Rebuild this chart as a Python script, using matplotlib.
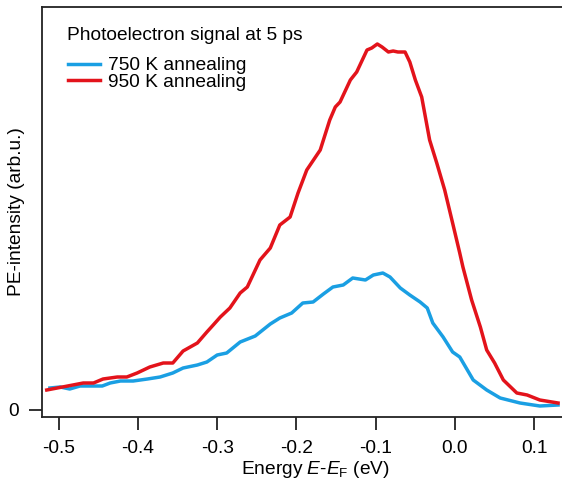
import matplotlib
matplotlib.use("Agg")
import matplotlib.pyplot as plt

plt.rcParams['font.family'] = ['Liberation Sans', 'DejaVu Sans']
plt.rcParams['mathtext.fontset'] = 'custom'
plt.rcParams['mathtext.rm'] = 'Liberation Sans'
plt.rcParams['mathtext.it'] = 'Liberation Sans:italic'

# Energy E-E_F (eV)
red_x = [-0.515, -0.482, -0.469, -0.456, -0.444, -0.426, -0.414, -0.401, -0.385, -0.368,
         -0.356, -0.343, -0.325, -0.313, -0.305, -0.296, -0.284, -0.271, -0.262, -0.246,
         -0.233, -0.221, -0.208, -0.198, -0.187, -0.170, -0.158, -0.151, -0.145, -0.132,
         -0.124, -0.111, -0.105, -0.098, -0.092, -0.084, -0.078, -0.072, -0.063, -0.057,
         -0.050, -0.042, -0.032, -0.023, -0.013, -0.003, 0.006, 0.010, 0.021, 0.032,
         0.040, 0.050, 0.061, 0.078, 0.091, 0.107, 0.130]
red_y = [0.20, 0.25, 0.27, 0.27, 0.31, 0.33, 0.33, 0.37, 0.43, 0.47,
         0.47, 0.59, 0.67, 0.78, 0.85, 0.93, 1.02, 1.17, 1.23, 1.50,
         1.62, 1.85, 1.93, 2.17, 2.40, 2.60, 2.90, 3.03, 3.08, 3.30,
         3.38, 3.60, 3.62, 3.66, 3.63, 3.58, 3.59, 3.58, 3.58, 3.48,
         3.30, 3.13, 2.70, 2.47, 2.20, 1.87, 1.57, 1.43, 1.10, 0.83,
         0.60, 0.47, 0.30, 0.17, 0.15, 0.10, 0.07]

blue_x = [-0.511, -0.498, -0.486, -0.473, -0.460, -0.445, -0.435, -0.422, -0.406, -0.388,
          -0.372, -0.356, -0.343, -0.325, -0.313, -0.300, -0.288, -0.271, -0.252, -0.233,
          -0.221, -0.206, -0.192, -0.179, -0.166, -0.154, -0.141, -0.129, -0.113, -0.103,
          -0.091, -0.082, -0.069, -0.057, -0.044, -0.035, -0.028, -0.015, -0.003, 0.006,
          0.023, 0.040, 0.057, 0.082, 0.107, 0.130]
blue_y = [0.22, 0.23, 0.21, 0.24, 0.24, 0.24, 0.27, 0.29, 0.29, 0.31,
          0.33, 0.37, 0.42, 0.45, 0.48, 0.55, 0.57, 0.68, 0.74, 0.86,
          0.92, 0.97, 1.07, 1.08, 1.16, 1.23, 1.25, 1.32, 1.30, 1.35,
          1.37, 1.33, 1.22, 1.15, 1.08, 1.02, 0.87, 0.73, 0.58, 0.53,
          0.30, 0.20, 0.12, 0.07, 0.04, 0.05]

x_ticks = [-0.5, -0.4, -0.3, -0.2, -0.1, 0.0, 0.1]
x_tick_labels = ['-0.5', '-0.4', '-0.3', '-0.2', '-0.1', '0.0', '0.1']

FS = 13.8

fig = plt.figure(figsize=(5.62, 4.88), dpi=100)
ax = fig.add_axes([42/562, 1-417/488, 520/562, 410/488])

blue_c = '#1a9fe3'
red_c = '#e3131b'
ax.plot(blue_x, blue_y, color=blue_c, lw=2.5, label='750 K annealing', solid_joinstyle='round')
ax.plot(red_x, red_y, color=red_c, lw=2.5, label='950 K annealing', solid_joinstyle='round')

ax.set_xlim(-0.521, 0.135)
ax.set_ylim(-0.07, 4.03)
ax.set_xticks(x_ticks)
ax.set_xticklabels(x_tick_labels)
ax.set_yticks([0])
ax.set_yticklabels(['0'])

for s in ['top', 'left', 'bottom']:
    ax.spines[s].set_linewidth(1.3)
    ax.spines[s].set_color('#222222')
ax.spines['right'].set_visible(False)
ax.tick_params(axis='both', direction='out', length=9.5, width=1.3, color='#222222',
               labelsize=FS, pad=7)

fig.text(315/562, 1-470/488, 'Energy $E$-$E_{\\mathrm{F}}$ (eV)', ha='center', va='center', fontsize=FS)
fig.text(17/562, 1-212/488, 'PE-intensity (arb.u.)', ha='center', va='center', rotation=90, fontsize=FS)

fig.text(67/562, 1-35/488, 'Photoelectron signal at 5 ps', ha='left', va='center', fontsize=FS)
leg = ax.legend(loc='upper left', bbox_to_anchor=(26/520, 1-50/410), frameon=False,
                fontsize=FS, handlelength=1.65, handletextpad=0.45, labelspacing=-0.05,
                borderpad=0, borderaxespad=0)

fig.savefig('out.png', dpi=100)
